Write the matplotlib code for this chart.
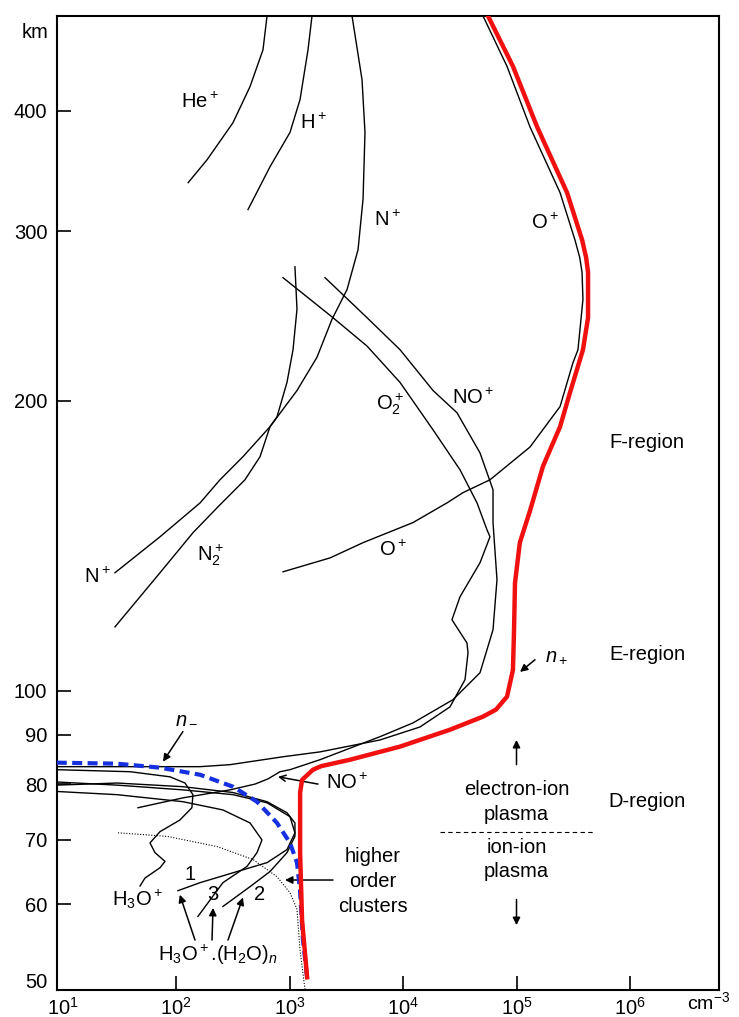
import matplotlib
matplotlib.use("Agg")
import matplotlib.pyplot as plt

plt.rcParams["font.family"] = ["Liberation Sans", "DejaVu Sans"]
plt.rcParams["mathtext.fontset"] = "custom"
plt.rcParams["mathtext.rm"] = "Liberation Sans"
plt.rcParams["mathtext.it"] = "Liberation Sans:italic"
plt.rcParams["mathtext.bf"] = "Liberation Sans:bold"

FONT = 14.5

# densities in cm^-3, altitudes in km
nPlusDensity = [5.61e4, 9.31e4, 1.52e5, 2.79e5, 3.78e5, 4.1e5, 4.27e5, 4.27e5, 3.85e5, 2.96e5, 2.42e5,
                1.71e5, 1.32e5, 1.07e5, 9.7e4, 9.5e4, 9.3e4, 8.25e4, 6.6e4, 5.07e4, 2.59e4, 9.42e3,
                3.42e3, 1.9e3, 1.61e3, 1.29e3, 1.24e3, 1.24e3, 1.29e3, 1.43e3]
nPlusAlt = [502, 445, 385, 329, 294, 282, 272, 244, 226, 204, 188,
            171, 154, 142.5, 129.4, 114.8, 105.1, 98.6, 95.6, 94.0, 91.1, 87.5,
            84.8, 83.5, 82.8, 80.8, 78.4, 67.9, 57.8, 50.4]

nMinusDensity = [8.9, 30.2, 72.3, 163, 318, 517, 776, 1010, 1164, 1238, 1315, 1426]
nMinusAlt = [84.2, 84.0, 83.2, 81.8, 79.5, 76.7, 72.9, 69.5, 66.3, 62.1, 55.1, 50.5]

oPlusDensity = [5.07e4, 8.25e4, 1.315e5, 2.42e5, 3.27e5, 3.6e5, 3.78e5, 3.85e5, 3.48e5, 3.14e5, 2.42e5,
                1.315e5, 5.84e4, 3.38e4, 2.44e4, 1.225e4, 4.45e3, 2.28e3, 877]
oPlusAlt = [502, 445, 385, 329, 294, 282, 272, 255, 226, 219, 197.3,
            179.1, 165.6, 160.6, 156.7, 149.5, 142.5, 137.4, 132.9]

heDensity = [634, 584, 449, 318, 188, 128]
heAlt = [502, 463, 424, 389, 356, 337]

hDensity = [1578, 1456, 1238, 1010, 673, 431]
hAlt = [502, 463, 411, 380, 350, 316]

nDensity = [3556, 4355, 4625, 4446, 4016, 3214, 2366, 1747, 1164, 673, 389, 244, 163, 72.3, 29.0]
nAlt = [502, 431, 380, 324, 287, 261, 243, 222, 205, 188, 175, 165.6, 156.7, 144.5, 132.6]

n2Density = [1117, 1164, 1074, 950, 776, 673, 550, 405, 234, 141, 72.3, 29.0]
n2Alt = [275.6, 249, 226, 209, 192.5, 188, 175, 165.6, 155.2, 145.9, 132.6, 116.5]

o2Density = [877, 2416, 4820, 9420, 1.84e4, 3.18e4, 4.49e4, 5.50e4, 5.84e4, 4.77e4,
             3.18e4, 2.70e4, 3.66e4, 3.74e4, 3.52e4, 2.59e4, 1.41e4, 6270, 1857, 877,
             299, 163, 8.9]
o2Alt = [268.5, 244, 228, 209, 186.6, 169.6, 156.7, 146.9, 144.5, 135.8,
         125.2, 118.5, 112.1, 109.5, 102.7, 96.2, 91.7, 88.9, 86.4, 85.4,
         83.8, 83.4, 83.4]

noDensity = [2056, 4820, 9420, 1.84e4, 2.99e4, 4.77e4, 6.21e4, 6.21e4, 6.73e4, 6.21e4,
             4.77e4, 2.76e4, 1.225e4, 6270, 1857, 1010, 825, 647, 497, 299, 115, 46.2]
noAlt = [268.5, 244, 226, 205, 194.4, 176.6, 161.7, 149.5, 130.4, 115.7,
         104.4, 97.9, 92.6, 89.6, 84.8, 82.8, 82.4, 81.0, 80.0, 78.9, 77.4, 75.6]

h3oDensity = [48.2, 53.3, 72.3, 80.0, 65.3, 59.0, 72.3, 108, 138, 141, 120, 88.5, 39.4, 8.9]
h3oAlt = [62.7, 63.9, 65.5, 66.5, 67.9, 69.5, 71.4, 73.4, 75.6, 78.0, 80.2, 81.4, 82.4, 82.8]

cluster1Density = [104, 163, 345, 634, 950, 1117, 1010, 634, 318, 115, 30.2, 8.9]
cluster1Alt = [62.0, 63.2, 64.9, 66.3, 68.4, 71.2, 74.0, 76.5, 78.0, 78.9, 79.8, 80.4]

cluster2Density = [259, 449, 673, 950, 1117, 1117, 950, 634, 318, 115, 30.2, 8.9]
cluster2Alt = [59.7, 62.6, 64.9, 67.9, 70.6, 72.9, 74.7, 76.7, 78.4, 79.5, 80.2, 79.8]

cluster3Density = [156, 259, 422, 517, 572, 449, 259, 115, 30.2, 8.9]
cluster3Alt = [58.3, 63.2, 65.7, 67.9, 70.0, 72.9, 75.2, 76.7, 78.0, 78.6]

higherClusterDensity = [30.8, 83.4, 230, 477, 776, 1010, 1164, 1238, 1371]
higherClusterAlt = [71.2, 70.6, 68.9, 66.8, 64.1, 61.7, 59.3, 53.8, 48.9]

altTicks = [50, 60, 70, 80, 90, 100, 200, 300, 400]
densityTicks = [1e1, 1e2, 1e3, 1e4, 1e5, 1e6]
densityTickLabels = [r"$10^{1}$", r"$10^{2}$", r"$10^{3}$", r"$10^{4}$", r"$10^{5}$", r"$10^{6}$"]


def arrow(ax, tail, tip, style="-|>"):
    ax.annotate("", xy=tip, xytext=tail,
                arrowprops=dict(arrowstyle=style, color="black", lw=1.1,
                                mutation_scale=11, shrinkA=0, shrinkB=0))


def label(ax, x, y, s, **kw):
    ax.text(x, y, s, ha="center", va="center", fontsize=FONT, **kw)


def main():
    fig = plt.figure(figsize=(7.39, 10.17), dpi=100)
    ax = fig.add_axes([0.0771, 0.0266, 0.8958, 0.9577])
    ax.set_xscale("log")
    ax.set_yscale("log")
    ax.set_xlim(8.94, 6.08e6)
    ax.set_ylim(48.9, 502)

    thin = dict(color="black", lw=1.0)
    for dens, alt in [(oPlusDensity, oPlusAlt), (heDensity, heAlt), (hDensity, hAlt),
                      (nDensity, nAlt), (n2Density, n2Alt), (o2Density, o2Alt),
                      (noDensity, noAlt), (h3oDensity, h3oAlt),
                      (cluster1Density, cluster1Alt), (cluster2Density, cluster2Alt),
                      (cluster3Density, cluster3Alt)]:
        ax.plot(dens, alt, **thin)
    ax.plot(higherClusterDensity, higherClusterAlt, color="black", lw=0.8, ls=(0, (1, 1.5)))

    ax.plot(nMinusDensity, nMinusAlt, color="#1530e0", lw=3.0, dashes=(2.4, 1.3), zorder=4)
    ax.plot(nPlusDensity, nPlusAlt, color="#f01010", lw=3.2, zorder=5)

    # species labels
    label(ax, 163, 409, r"He$^+$")
    label(ax, 1611, 389, r"H$^+$")
    label(ax, 7230, 308, r"N$^+$")
    label(ax, 1.78e5, 306, r"O$^+$")
    label(ax, 7680, 198.2, r"O$_2^+$")
    label(ax, 4.14e4, 201.5, r"NO$^+$")
    label(ax, 8160, 140.1, r"O$^+$")
    label(ax, 199, 138.4, r"N$_2^+$")
    label(ax, 20.1, 131.3, r"N$^+$")
    label(ax, 1.41e6, 181.0, "F-region")
    label(ax, 1.42e6, 109.0, "E-region")
    label(ax, 1.42e6, 76.7, "D-region")

    label(ax, 125, 93.8, r"$n_-$")
    arrow(ax, (115, 90.7), (76.8, 84.4))
    label(ax, 2.27e5, 108.5, r"$n_+$")
    arrow(ax, (1.456e5, 107.7), (1.074e5, 104.6))

    label(ax, 3214, 80.2, r"NO$^+$")
    arrow(ax, (1782, 80.0), (792, 81.4), style="->")

    label(ax, 5446, 67.3, "higher")
    label(ax, 5446, 63.3, "order")
    label(ax, 5446, 59.7, "clusters")
    arrow(ax, (2416, 63.6), (912, 63.6))

    label(ax, 46.2, 60.7, r"H$_3$O$^+$")
    label(ax, 133, 64.4, "1")
    label(ax, 212, 61.4, "3")
    label(ax, 550, 61.4, "2")
    label(ax, 234, 53.2, r"H$_3$O$^+$.(H$_2$O)$_n$")
    arrow(ax, (147, 55.1), (108, 61.4))
    arrow(ax, (207.6, 55.1), (212, 59.5))
    arrow(ax, (287, 55.1), (389, 61.0))

    label(ax, 1e5, 78.9, "electron-ion")
    label(ax, 1e5, 74.3, "plasma")
    ax.plot([2.12e4, 4.72e5], [71.4, 71.4], color="black", lw=0.8, dashes=(4, 3))
    label(ax, 1e5, 68.7, "ion-ion")
    label(ax, 1e5, 64.9, "plasma")
    arrow(ax, (1e5, 83.8), (1e5, 88.9))
    arrow(ax, (1e5, 60.7), (1e5, 57.1))

    # axes styling
    ax.yaxis.set_major_locator(plt.FixedLocator(altTicks))
    ax.yaxis.set_major_formatter(plt.FixedFormatter([str(t) for t in altTicks]))
    ax.yaxis.set_minor_locator(plt.NullLocator())
    ax.xaxis.set_major_locator(plt.FixedLocator(densityTicks))
    ax.xaxis.set_major_formatter(plt.FixedFormatter(densityTickLabels))
    ax.xaxis.set_minor_locator(plt.NullLocator())
    ax.tick_params(direction="in", length=10, width=1.2, labelsize=FONT)
    ax.tick_params(axis="y", pad=7)
    ax.tick_params(axis="x", pad=5)
    ax.yaxis.get_major_ticks()[0].tick1line.set_visible(False)
    ax.xaxis.get_major_ticks()[0].tick1line.set_visible(False)
    for sp in ax.spines.values():
        sp.set_linewidth(1.5)

    ax.text(-0.033, 483, "km", transform=ax.get_yaxis_transform(),
            ha="center", va="center", fontsize=FONT)
    ax.text(4.9e6, -0.013, r"cm$^{-3}$", transform=ax.get_xaxis_transform(),
            ha="center", va="center", fontsize=14)

    fig.savefig("out.png", dpi=100)
    plt.close(fig)


if __name__ == "__main__":
    main()
